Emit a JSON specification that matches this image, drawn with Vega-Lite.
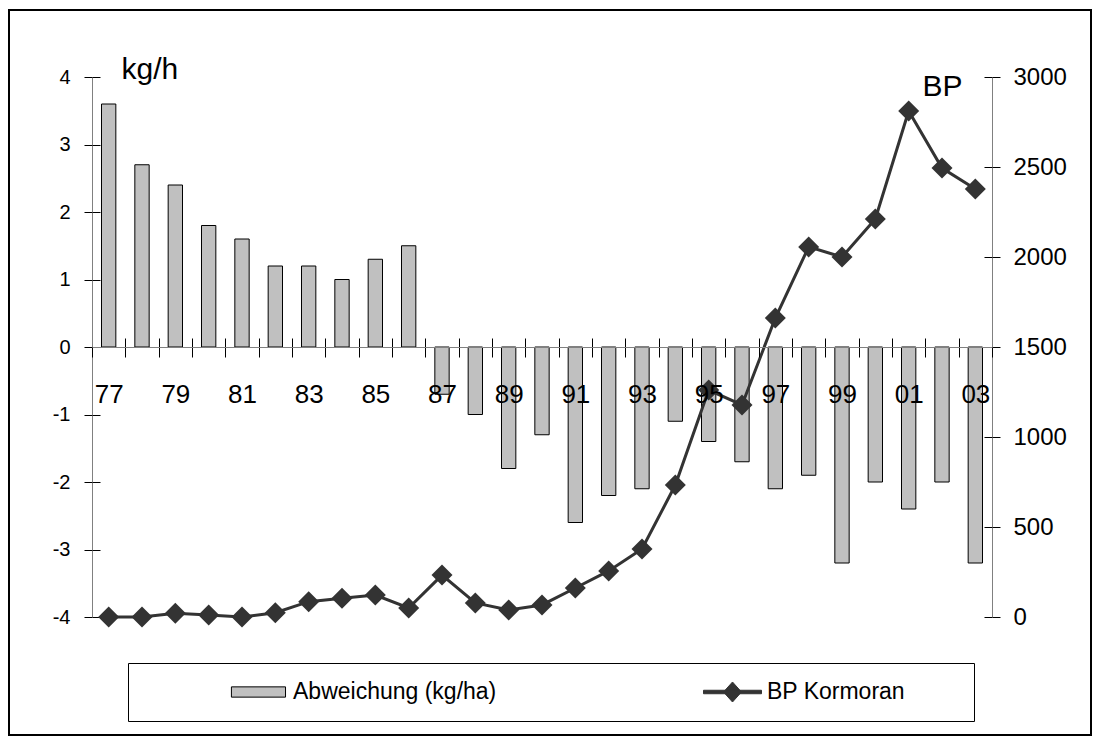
{
  "$schema": "https://vega.github.io/schema/vega-lite/v6.json",
  "width": 1082,
  "height": 725,
  "autosize": {"type": "none"},
  "padding": {"left": 9, "top": 10, "right": 2, "bottom": 1},
  "background": "white",
  "config": {
    "font": "Liberation Sans",
    "view": {"stroke": "black", "strokeWidth": 2},
    "axis": {
      "labelColor": "black",
      "titleColor": "black",
      "titleFontWeight": "normal",
      "tickColor": "black",
      "tickWidth": 1,
      "domainColor": "#808080",
      "domainWidth": 1,
      "grid": false
    }
  },
  "data": {
    "values": [
      {"Jahr": "77", "Abweichung": 3.6, "BP": 0},
      {"Jahr": "78", "Abweichung": 2.7, "BP": 0},
      {"Jahr": "79", "Abweichung": 2.4, "BP": 21},
      {"Jahr": "80", "Abweichung": 1.8, "BP": 11},
      {"Jahr": "81", "Abweichung": 1.6, "BP": 0},
      {"Jahr": "82", "Abweichung": 1.2, "BP": 24},
      {"Jahr": "83", "Abweichung": 1.2, "BP": 85},
      {"Jahr": "84", "Abweichung": 1.0, "BP": 104},
      {"Jahr": "85", "Abweichung": 1.3, "BP": 122},
      {"Jahr": "86", "Abweichung": 1.5, "BP": 50},
      {"Jahr": "87", "Abweichung": -0.7, "BP": 233},
      {"Jahr": "88", "Abweichung": -1.0, "BP": 78},
      {"Jahr": "89", "Abweichung": -1.8, "BP": 39},
      {"Jahr": "90", "Abweichung": -1.3, "BP": 67},
      {"Jahr": "91", "Abweichung": -2.6, "BP": 161},
      {"Jahr": "92", "Abweichung": -2.2, "BP": 256},
      {"Jahr": "93", "Abweichung": -2.1, "BP": 378},
      {"Jahr": "94", "Abweichung": -1.1, "BP": 733},
      {"Jahr": "95", "Abweichung": -1.4, "BP": 1261},
      {"Jahr": "96", "Abweichung": -1.7, "BP": 1178},
      {"Jahr": "97", "Abweichung": -2.1, "BP": 1661},
      {"Jahr": "98", "Abweichung": -1.9, "BP": 2056},
      {"Jahr": "99", "Abweichung": -3.2, "BP": 2000},
      {"Jahr": "00", "Abweichung": -2.0, "BP": 2211},
      {"Jahr": "01", "Abweichung": -2.4, "BP": 2811},
      {"Jahr": "02", "Abweichung": -2.0, "BP": 2494},
      {"Jahr": "03", "Abweichung": -3.2, "BP": 2378}
    ]
  },
  "layer": [
    {
      "transform": [{"filter": "datum.Abweichung >= 0"}],
      "mark": {"type": "bar", "stroke": "black", "strokeWidth": 1, "width": {"band": 0.43}},
      "encoding": {
        "x": {
          "field": "Jahr", "type": "ordinal", "sort": null,
          "scale": {"range": [83, 983], "paddingInner": 0, "paddingOuter": 0},
          "axis": {
            "orient": "bottom", "offset": -388, "title": null, "zindex": 1,
            "labelAngle": 0, "labelFontSize": 26, "labelOverlap": false, "labelPadding": 24,
            "labelExpr": "test(/[13579]$/, datum.value) ? datum.value : ''",
            "tickBand": "extent", "tickSize": 10
          }
        },
        "y": {
          "field": "Abweichung", "type": "quantitative",
          "scale": {"domain": [-4, 4], "range": [607, 67], "nice": false},
          "axis": {
            "orient": "left", "offset": -83,
            "values": [-4, -3, -2, -1, 0, 1, 2, 3, 4],
            "labelExpr": "'' + datum.value",
            "labelFontSize": 20, "labelPadding": 14, "tickSize": 8,
            "title": "kg/h", "titleAngle": 0, "titleAlign": "left", "titleBaseline": "alphabetic",
            "titleFontSize": 30, "titleX": 29, "titleY": 68
          }
        },
        "fill": {
          "datum": "Abweichung (kg/ha)", "type": "nominal",
          "scale": {"domain": ["Abweichung (kg/ha)"], "range": ["#c0c0c0"]},
          "legend": {
            "orient": "none", "legendX": 119, "legendY": 653,
            "strokeColor": "black", "padding": 1,
            "clipHeight": 56,
            "symbolType": "M0.29,-0.065H0.975V0.065H0.29Z",
            "symbolSize": 24964,
            "symbolStrokeColor": "black", "symbolStrokeWidth": 1,
            "labelFontSize": 23, "labelColor": "black", "labelLimit": 400, "labelOffset": 5,
            "title": " ", "titleOrient": "right", "titlePadding": 477, "titleFontSize": 23
          }
        }
      }
    },
    {
      "transform": [{"filter": "datum.Abweichung < 0"}],
      "mark": {"type": "bar", "stroke": "black", "strokeWidth": 1, "width": {"band": 0.43}},
      "encoding": {
        "x": {
          "field": "Jahr", "type": "ordinal", "sort": null,
          "scale": {"range": [83, 983], "paddingInner": 0, "paddingOuter": 0},
          "axis": null
        },
        "y": {
          "field": "Abweichung", "type": "quantitative",
          "scale": {"domain": [-4, 4], "range": [607, 67], "nice": false},
          "axis": {
            "orient": "right", "offset": -999,
            "values": [-4, -3, -2, -1, 0, 1, 2, 3, 4],
            "labels": false, "domain": false, "title": null, "tickSize": 8
          }
        },
        "fill": {"datum": "Abweichung (kg/ha)", "type": "nominal", "legend": null}
      }
    },
    {
      "mark": {"type": "line", "strokeWidth": 3},
      "encoding": {
        "x": {
          "field": "Jahr", "type": "ordinal", "sort": null,
          "scale": {"range": [83, 983], "paddingInner": 0, "paddingOuter": 0},
          "axis": {
            "orient": "top", "offset": -337, "title": null,
            "labels": false, "domain": false,
            "tickBand": "extent", "tickSize": 9
          }
        },
        "y": {
          "field": "BP", "type": "quantitative",
          "scale": {"domain": [0, 3000], "range": [607, 67], "nice": false},
          "axis": {
            "orient": "right", "offset": -99,
            "values": [0, 500, 1000, 1500, 2000, 2500, 3000],
            "labelExpr": "'' + datum.value",
            "labelFontSize": 24, "labelPadding": 13, "tickSize": 8,
            "title": "BP", "titleAngle": 0, "titleAlign": "left", "titleBaseline": "alphabetic",
            "titleFontSize": 30, "titleX": -70, "titleY": 85
          }
        },
        "color": {
          "datum": "BP Kormoran", "type": "nominal",
          "scale": {"domain": ["BP Kormoran"], "range": ["#333333"]},
          "legend": {
            "orient": "none", "legendX": 693, "legendY": 653,
            "padding": 1, "clipHeight": 56,
            "symbolType": "M-1,-0.06H1V0.06H-1Z M0,-0.345L0.31,0L0,0.345L-0.31,0Z",
            "symbolSize": 3364,
            "symbolFillColor": "#333333", "symbolStrokeColor": "#333333", "symbolStrokeWidth": 1,
            "labelFontSize": 23, "labelColor": "black", "labelLimit": 400, "labelOffset": 5,
            "title": null
          }
        }
      }
    },
    {
      "mark": {"type": "point", "shape": "diamond", "filled": true, "size": 441, "opacity": 1},
      "encoding": {
        "x": {
          "field": "Jahr", "type": "ordinal", "sort": null,
          "scale": {"range": [83, 983], "paddingInner": 0, "paddingOuter": 0},
          "axis": null
        },
        "y": {
          "field": "BP", "type": "quantitative",
          "scale": {"domain": [0, 3000], "range": [607, 67], "nice": false},
          "axis": {
            "orient": "left", "offset": -983,
            "values": [0, 500, 1000, 1500, 2000, 2500, 3000],
            "labels": false, "domain": false, "title": null, "tickSize": 8
          }
        },
        "color": {"datum": "BP Kormoran", "type": "nominal", "legend": null}
      }
    }
  ],
  "resolve": {"scale": {"y": "independent"}}
}
